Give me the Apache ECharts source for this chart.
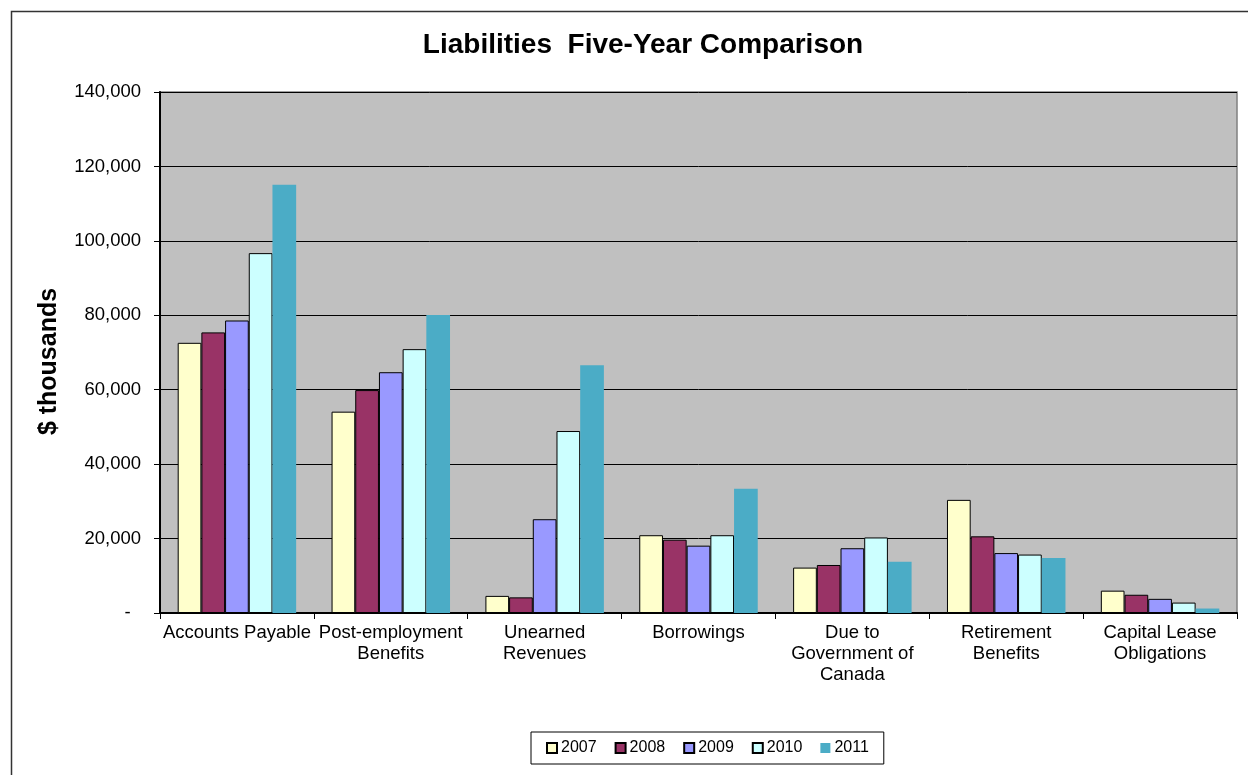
<!DOCTYPE html>
<html>
<head>
<meta charset="utf-8">
<title>Liabilities Five-Year Comparison</title>
<script src="https://cdn.jsdelivr.net/npm/echarts@6/dist/echarts.min.js"></script>
<style>
  html, body { margin: 0; padding: 0; background: #ffffff; }
  #chart { width: 1248px; height: 775px; }
</style>
</head>
<body>
<div id="chart"></div>
<script>
// Liability categories (line breaks follow the wrapped axis labels)
const categories = [
  'Accounts Payable',
  'Post-employment\nBenefits',
  'Unearned\nRevenues',
  'Borrowings',
  'Due to\nGovernment of\nCanada',
  'Retirement\nBenefits',
  'Capital Lease\nObligations'
];

// Year-end balances, $ thousands
const years = ['2007', '2008', '2009', '2010', '2011'];
const values2007 = [72600, 54100, 4600, 20900, 12200, 30400, 6000];
const values2008 = [75400, 59900, 4200, 19700, 12900, 20600, 4900];
const values2009 = [78600, 64700, 25200, 18100, 17400, 16100, 3800];
const values2010 = [96700, 70900, 48900, 20900, 20300, 15700, 2800];
const values2011 = [115100, 80100, 66600, 33400, 13800, 14800, 1200];

const seriesValues = [values2007, values2008, values2009, values2010, values2011];
const seriesColors = ['#FFFFCC', '#993366', '#9999FF', '#CCFFFF', '#4BACC6'];
const outlined = [true, true, true, true, false];

const FONT = '"Liberation Sans", Arial, sans-serif';

const chart = echarts.init(document.getElementById('chart'), null, { renderer: 'canvas' });

const option = {
  backgroundColor: '#ffffff',
  animation: false,
  graphic: [{
    type: 'rect',
    shape: { x: 11.5, y: 11.5, width: 1260, height: 800 },
    style: { fill: 'none', stroke: '#333333', lineWidth: 1.5 },
    silent: true,
    z: -1
  }],
  title: {
    text: 'Liabilities  Five-Year Comparison',
    left: 638,
    top: 26,
    textAlign: 'center',
    textStyle: { fontFamily: FONT, fontWeight: 'bold', fontSize: 28, color: '#000' }
  },
  legend: {
    data: years,
    left: 531,
    top: 732,
    orient: 'horizontal',
    itemWidth: 10,
    itemHeight: 10,
    itemGap: 18,
    padding: [8, 15, 8, 15],
    borderColor: '#000',
    borderWidth: 1,
    icon: 'rect',
    textStyle: { fontFamily: FONT, fontSize: 16, color: '#000', padding: [0, 0, 0, -1] }
  },
  grid: {
    left: 160,
    right: 11,
    top: 92,
    bottom: 162,
    show: true,
    backgroundColor: '#C0C0C0',
    borderColor: '#808080',
    borderWidth: 1.5,
    containLabel: false
  },
  xAxis: {
    type: 'category',
    data: categories,
    axisLine: { show: true, lineStyle: { color: '#000', width: 2 } },
    axisTick: { show: true, alignWithLabel: false, length: 6, lineStyle: { color: '#000', width: 1 } },
    axisLabel: {
      interval: 0,
      margin: 9,
      fontFamily: FONT,
      fontSize: 18.5,
      lineHeight: 21,
      color: '#000'
    },
    splitLine: { show: false }
  },
  yAxis: {
    type: 'value',
    min: 0,
    max: 140000,
    interval: 20000,
    name: '$ thousands',
    nameLocation: 'middle',
    nameGap: 98,
    nameTextStyle: { fontFamily: FONT, fontWeight: 'bold', fontSize: 25, color: '#000', padding: [0, 18, 0, 0] },
    axisLine: { show: true, lineStyle: { color: '#000', width: 2 } },
    axisTick: { show: true, inside: false, length: 6, lineStyle: { color: '#000', width: 1 } },
    axisLabel: {
      margin: 19,
      fontFamily: FONT,
      fontSize: 18.5,
      color: '#000',
      formatter: function (v) {
        return v === 0 ? '-  ' : v.toLocaleString('en-US');
      }
    },
    splitLine: { show: true, lineStyle: { color: '#000', width: 1 } }
  },
  series: years.map(function (year, i) {
    return {
      name: year,
      type: 'bar',
      data: seriesValues[i],
      barGap: '0%',
      barCategoryGap: '23%',
      itemStyle: {
        color: seriesColors[i],
        borderColor: outlined[i] ? '#000' : seriesColors[i],
        borderWidth: outlined[i] ? 1 : 0
      },
      emphasis: { disabled: true }
    };
  })
};

chart.setOption(option);
</script>
</body>
</html>
